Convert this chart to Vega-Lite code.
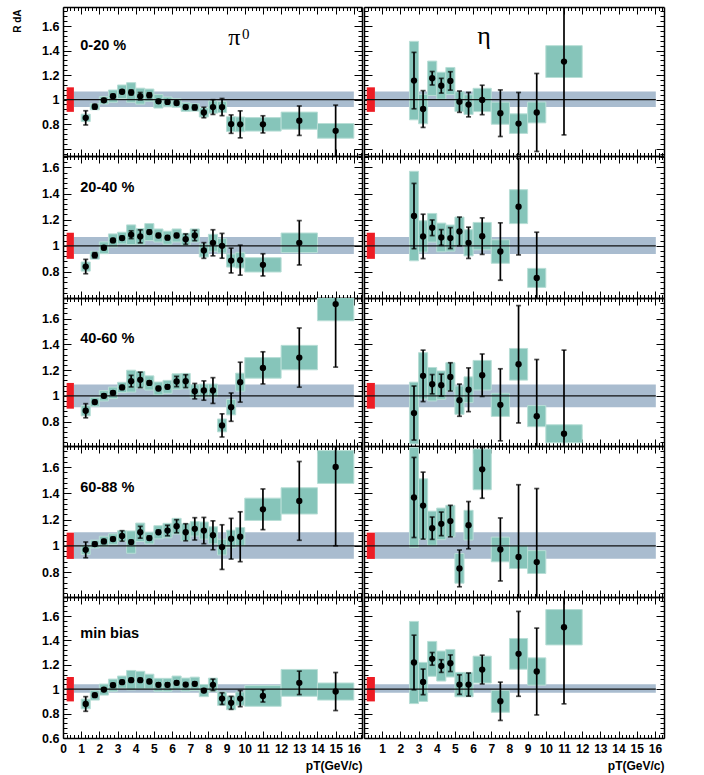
{
"$schema": "https://vega.github.io/schema/vega-lite/v6.json",
"padding": {"left": 12, "top": 5, "right": 5, "bottom": 5},
"background": "white",
"config": {"view": {"stroke": null}, "font": "Liberation Sans",
 "axis": {"domainColor": "black", "domainWidth": 1.5, "tickColor": "black", "tickWidth": 1, "labelFont": "Liberation Sans", "labelFontWeight": "bold", "labelFontSize": 12, "labelColor": "black", "grid": false, "labelOverlap": false, "labelFlush": false, "titleFont": "Liberation Sans", "titleFontWeight": "bold", "titleColor": "black"},
 "axisY": {"labelFontSize": 12.5}},
"datasets": {
 "one": [{"k": 1}],
 "bands": [{"p":1,"b0":0.94,"b1":1.065},{"p":2,"b0":0.938,"b1":1.067},{"p":3,"b0":0.912,"b1":1.088},{"p":4,"b0":0.902,"b1":1.103},{"p":5,"b0":0.97,"b1":1.04}],
 "pts": [
{"p":1,"c":"pi","x":1.25,"y":0.851,"e0":0.793,"e1":0.909,"x0":1,"x1":1.5,"s0":0.821,"s1":0.881},
{"p":1,"c":"pi","x":1.75,"y":0.942,"e0":0.922,"e1":0.962,"x0":1.5,"x1":2,"s0":0.917,"s1":0.967},
{"p":1,"c":"pi","x":2.25,"y":0.994,"e0":0.979,"e1":1.009,"x0":2,"x1":2.5,"s0":0.964,"s1":1.024},
{"p":1,"c":"pi","x":2.75,"y":1.028,"e0":1.013,"e1":1.043,"x0":2.5,"x1":3,"s0":0.978,"s1":1.078},
{"p":1,"c":"pi","x":3.25,"y":1.064,"e0":1.049,"e1":1.079,"x0":3,"x1":3.5,"s0":1.009,"s1":1.119},
{"p":1,"c":"pi","x":3.75,"y":1.058,"e0":1.038,"e1":1.078,"x0":3.5,"x1":4,"s0":0.978,"s1":1.138},
{"p":1,"c":"pi","x":4.25,"y":1.028,"e0":0.998,"e1":1.058,"x0":4,"x1":4.5,"s0":0.963,"s1":1.093},
{"p":1,"c":"pi","x":4.75,"y":1.036,"e0":1.016,"e1":1.056,"x0":4.5,"x1":5,"s0":0.986,"s1":1.086},
{"p":1,"c":"pi","x":5.25,"y":0.986,"e0":0.971,"e1":1.001,"x0":5,"x1":5.5,"s0":0.931,"s1":1.041},
{"p":1,"c":"pi","x":5.75,"y":0.981,"e0":0.966,"e1":0.996,"x0":5.5,"x1":6,"s0":0.941,"s1":1.021},
{"p":1,"c":"pi","x":6.25,"y":0.972,"e0":0.957,"e1":0.987,"x0":6,"x1":6.5,"s0":0.937,"s1":1.007},
{"p":1,"c":"pi","x":6.75,"y":0.939,"e0":0.924,"e1":0.954,"x0":6.5,"x1":7,"s0":0.904,"s1":0.974},
{"p":1,"c":"pi","x":7.25,"y":0.936,"e0":0.916,"e1":0.956,"x0":7,"x1":7.5,"s0":0.906,"s1":0.966},
{"p":1,"c":"pi","x":7.75,"y":0.895,"e0":0.852,"e1":0.938,"x0":7.5,"x1":8,"s0":0.858,"s1":0.932},
{"p":1,"c":"pi","x":8.25,"y":0.939,"e0":0.879,"e1":0.999,"x0":8,"x1":8.5,"s0":0.889,"s1":0.989},
{"p":1,"c":"pi","x":8.75,"y":0.939,"e0":0.869,"e1":1.009,"x0":8.5,"x1":9,"s0":0.894,"s1":0.984},
{"p":1,"c":"pi","x":9.25,"y":0.8,"e0":0.725,"e1":0.875,"x0":9,"x1":9.5,"s0":0.74,"s1":0.86},
{"p":1,"c":"pi","x":9.75,"y":0.798,"e0":0.688,"e1":0.908,"x0":9.5,"x1":10,"s0":0.738,"s1":0.858},
{"p":1,"c":"pi","x":11,"y":0.798,"e0":0.728,"e1":0.868,"x0":10,"x1":12,"s0":0.743,"s1":0.853},
{"p":1,"c":"pi","x":13,"y":0.828,"e0":0.708,"e1":0.948,"x0":12,"x1":14,"s0":0.758,"s1":0.898},
{"p":1,"c":"pi","x":15,"y":0.745,"e0":0.535,"e1":0.955,"x0":14,"x1":16,"s0":0.685,"s1":0.805},
{"p":1,"c":"eta","x":2.75,"y":1.155,"e0":0.925,"e1":1.385,"x0":2.5,"x1":3,"s0":0.835,"s1":1.475},
{"p":1,"c":"eta","x":3.25,"y":0.923,"e0":0.773,"e1":1.073,"x0":3,"x1":3.5,"s0":0.803,"s1":1.043},
{"p":1,"c":"eta","x":3.75,"y":1.174,"e0":1.119,"e1":1.229,"x0":3.5,"x1":4,"s0":1.034,"s1":1.314},
{"p":1,"c":"eta","x":4.25,"y":1.113,"e0":1.053,"e1":1.173,"x0":4,"x1":4.5,"s0":1.003,"s1":1.223},
{"p":1,"c":"eta","x":4.75,"y":1.152,"e0":1.077,"e1":1.227,"x0":4.5,"x1":5,"s0":1.042,"s1":1.262},
{"p":1,"c":"eta","x":5.25,"y":0.983,"e0":0.896,"e1":1.07,"x0":5,"x1":5.5,"s0":0.903,"s1":1.063},
{"p":1,"c":"eta","x":5.75,"y":0.959,"e0":0.859,"e1":1.059,"x0":5.5,"x1":6,"s0":0.879,"s1":1.039},
{"p":1,"c":"eta","x":6.5,"y":0.997,"e0":0.877,"e1":1.117,"x0":6,"x1":7,"s0":0.902,"s1":1.092},
{"p":1,"c":"eta","x":7.5,"y":0.889,"e0":0.699,"e1":1.079,"x0":7,"x1":8,"s0":0.799,"s1":0.979},
{"p":1,"c":"eta","x":8.5,"y":0.804,"e0":0.55,"e1":1.058,"x0":8,"x1":9,"s0":0.724,"s1":0.884},
{"p":1,"c":"eta","x":9.5,"y":0.895,"e0":0.577,"e1":1.213,"x0":9,"x1":10,"s0":0.81,"s1":0.98},
{"p":1,"c":"eta","x":11,"y":1.31,"e0":0.712,"e1":1.908,"x0":10,"x1":12,"s0":1.18,"s1":1.44},
{"p":2,"c":"pi","x":1.25,"y":0.841,"e0":0.786,"e1":0.896,"x0":1,"x1":1.5,"s0":0.806,"s1":0.876},
{"p":2,"c":"pi","x":1.75,"y":0.928,"e0":0.908,"e1":0.948,"x0":1.5,"x1":2,"s0":0.898,"s1":0.958},
{"p":2,"c":"pi","x":2.25,"y":0.985,"e0":0.97,"e1":1.0,"x0":2,"x1":2.5,"s0":0.94,"s1":1.03},
{"p":2,"c":"pi","x":2.75,"y":1.041,"e0":1.026,"e1":1.056,"x0":2.5,"x1":3,"s0":0.991,"s1":1.091},
{"p":2,"c":"pi","x":3.25,"y":1.059,"e0":1.044,"e1":1.074,"x0":3,"x1":3.5,"s0":1.014,"s1":1.104},
{"p":2,"c":"pi","x":3.75,"y":1.085,"e0":1.055,"e1":1.115,"x0":3.5,"x1":4,"s0":1.01,"s1":1.16},
{"p":2,"c":"pi","x":4.25,"y":1.072,"e0":1.022,"e1":1.122,"x0":4,"x1":4.5,"s0":1.012,"s1":1.132},
{"p":2,"c":"pi","x":4.75,"y":1.105,"e0":1.09,"e1":1.12,"x0":4.5,"x1":5,"s0":1.04,"s1":1.17},
{"p":2,"c":"pi","x":5.25,"y":1.079,"e0":1.064,"e1":1.094,"x0":5,"x1":5.5,"s0":1.029,"s1":1.129},
{"p":2,"c":"pi","x":5.75,"y":1.062,"e0":1.047,"e1":1.077,"x0":5.5,"x1":6,"s0":1.012,"s1":1.112},
{"p":2,"c":"pi","x":6.25,"y":1.079,"e0":1.064,"e1":1.094,"x0":6,"x1":6.5,"s0":1.029,"s1":1.129},
{"p":2,"c":"pi","x":6.75,"y":1.051,"e0":1.011,"e1":1.091,"x0":6.5,"x1":7,"s0":1.006,"s1":1.096},
{"p":2,"c":"pi","x":7.25,"y":1.079,"e0":1.039,"e1":1.119,"x0":7,"x1":7.5,"s0":1.029,"s1":1.129},
{"p":2,"c":"pi","x":7.75,"y":0.964,"e0":0.904,"e1":1.024,"x0":7.5,"x1":8,"s0":0.914,"s1":1.014},
{"p":2,"c":"pi","x":8.25,"y":1.023,"e0":0.923,"e1":1.123,"x0":8,"x1":8.5,"s0":0.958,"s1":1.088},
{"p":2,"c":"pi","x":8.75,"y":1.0,"e0":0.905,"e1":1.095,"x0":8.5,"x1":9,"s0":0.945,"s1":1.055},
{"p":2,"c":"pi","x":9.25,"y":0.887,"e0":0.792,"e1":0.982,"x0":9,"x1":9.5,"s0":0.837,"s1":0.937},
{"p":2,"c":"pi","x":9.75,"y":0.89,"e0":0.775,"e1":1.005,"x0":9.5,"x1":10,"s0":0.83,"s1":0.95},
{"p":2,"c":"pi","x":11,"y":0.854,"e0":0.769,"e1":0.939,"x0":10,"x1":12,"s0":0.799,"s1":0.909},
{"p":2,"c":"pi","x":13,"y":1.023,"e0":0.853,"e1":1.193,"x0":12,"x1":14,"s0":0.948,"s1":1.098},
{"p":2,"c":"eta","x":2.75,"y":1.228,"e0":0.978,"e1":1.478,"x0":2.5,"x1":3,"s0":0.885,"s1":1.571},
{"p":2,"c":"eta","x":3.25,"y":1.072,"e0":0.902,"e1":1.242,"x0":3,"x1":3.5,"s0":0.952,"s1":1.192},
{"p":2,"c":"eta","x":3.75,"y":1.138,"e0":1.078,"e1":1.198,"x0":3.5,"x1":4,"s0":1.028,"s1":1.248},
{"p":2,"c":"eta","x":4.25,"y":1.064,"e0":1.004,"e1":1.124,"x0":4,"x1":4.5,"s0":0.954,"s1":1.174},
{"p":2,"c":"eta","x":4.75,"y":1.059,"e0":0.979,"e1":1.139,"x0":4.5,"x1":5,"s0":0.959,"s1":1.159},
{"p":2,"c":"eta","x":5.25,"y":1.11,"e0":1.0,"e1":1.22,"x0":5,"x1":5.5,"s0":1.0,"s1":1.22},
{"p":2,"c":"eta","x":5.75,"y":1.023,"e0":0.903,"e1":1.143,"x0":5.5,"x1":6,"s0":0.923,"s1":1.123},
{"p":2,"c":"eta","x":6.5,"y":1.074,"e0":0.934,"e1":1.214,"x0":6,"x1":7,"s0":0.969,"s1":1.179},
{"p":2,"c":"eta","x":7.5,"y":0.956,"e0":0.736,"e1":1.176,"x0":7,"x1":8,"s0":0.866,"s1":1.046},
{"p":2,"c":"eta","x":8.5,"y":1.3,"e0":0.93,"e1":1.67,"x0":8,"x1":9,"s0":1.17,"s1":1.43},
{"p":2,"c":"eta","x":9.5,"y":0.754,"e0":0.404,"e1":1.104,"x0":9,"x1":10,"s0":0.681,"s1":0.827},
{"p":3,"c":"pi","x":1.25,"y":0.884,"e0":0.829,"e1":0.939,"x0":1,"x1":1.5,"s0":0.844,"s1":0.924},
{"p":3,"c":"pi","x":1.75,"y":0.951,"e0":0.936,"e1":0.966,"x0":1.5,"x1":2,"s0":0.916,"s1":0.986},
{"p":3,"c":"pi","x":2.25,"y":1.0,"e0":0.985,"e1":1.015,"x0":2,"x1":2.5,"s0":0.96,"s1":1.04},
{"p":3,"c":"pi","x":2.75,"y":1.023,"e0":1.008,"e1":1.038,"x0":2.5,"x1":3,"s0":0.978,"s1":1.068},
{"p":3,"c":"pi","x":3.25,"y":1.065,"e0":1.05,"e1":1.08,"x0":3,"x1":3.5,"s0":1.025,"s1":1.105},
{"p":3,"c":"pi","x":3.75,"y":1.114,"e0":1.069,"e1":1.159,"x0":3.5,"x1":4,"s0":1.029,"s1":1.199},
{"p":3,"c":"pi","x":4.25,"y":1.124,"e0":1.064,"e1":1.184,"x0":4,"x1":4.5,"s0":1.059,"s1":1.189},
{"p":3,"c":"pi","x":4.75,"y":1.1,"e0":1.085,"e1":1.115,"x0":4.5,"x1":5,"s0":1.045,"s1":1.155},
{"p":3,"c":"pi","x":5.25,"y":1.057,"e0":1.042,"e1":1.072,"x0":5,"x1":5.5,"s0":1.007,"s1":1.107},
{"p":3,"c":"pi","x":5.75,"y":1.07,"e0":1.055,"e1":1.085,"x0":5.5,"x1":6,"s0":1.02,"s1":1.12},
{"p":3,"c":"pi","x":6.25,"y":1.111,"e0":1.071,"e1":1.151,"x0":6,"x1":6.5,"s0":1.051,"s1":1.171},
{"p":3,"c":"pi","x":6.75,"y":1.114,"e0":1.064,"e1":1.164,"x0":6.5,"x1":7,"s0":1.054,"s1":1.174},
{"p":3,"c":"pi","x":7.25,"y":1.036,"e0":0.976,"e1":1.096,"x0":7,"x1":7.5,"s0":0.986,"s1":1.086},
{"p":3,"c":"pi","x":7.75,"y":1.041,"e0":0.966,"e1":1.116,"x0":7.5,"x1":8,"s0":0.991,"s1":1.091},
{"p":3,"c":"pi","x":8.25,"y":1.041,"e0":0.941,"e1":1.141,"x0":8,"x1":8.5,"s0":0.991,"s1":1.091},
{"p":3,"c":"pi","x":8.75,"y":0.77,"e0":0.68,"e1":0.86,"x0":8.5,"x1":9,"s0":0.72,"s1":0.82},
{"p":3,"c":"pi","x":9.25,"y":0.912,"e0":0.802,"e1":1.022,"x0":9,"x1":9.5,"s0":0.852,"s1":0.972},
{"p":3,"c":"pi","x":9.75,"y":1.106,"e0":0.951,"e1":1.261,"x0":9.5,"x1":10,"s0":1.036,"s1":1.176},
{"p":3,"c":"pi","x":11,"y":1.217,"e0":1.092,"e1":1.342,"x0":10,"x1":12,"s0":1.137,"s1":1.297},
{"p":3,"c":"pi","x":13,"y":1.297,"e0":1.067,"e1":1.527,"x0":12,"x1":14,"s0":1.202,"s1":1.392},
{"p":3,"c":"pi","x":15,"y":1.713,"e0":1.223,"e1":2.203,"x0":14,"x1":16,"s0":1.583,"s1":1.843},
{"p":3,"c":"eta","x":2.75,"y":0.866,"e0":0.656,"e1":1.076,"x0":2.5,"x1":3,"s0":0.626,"s1":1.106},
{"p":3,"c":"eta","x":3.25,"y":1.155,"e0":0.955,"e1":1.355,"x0":3,"x1":3.5,"s0":0.975,"s1":1.335},
{"p":3,"c":"eta","x":3.75,"y":1.09,"e0":1.015,"e1":1.165,"x0":3.5,"x1":4,"s0":0.96,"s1":1.22},
{"p":3,"c":"eta","x":4.25,"y":1.083,"e0":0.998,"e1":1.168,"x0":4,"x1":4.5,"s0":0.973,"s1":1.193},
{"p":3,"c":"eta","x":4.75,"y":1.147,"e0":1.037,"e1":1.257,"x0":4.5,"x1":5,"s0":1.037,"s1":1.257},
{"p":3,"c":"eta","x":5.25,"y":0.966,"e0":0.841,"e1":1.091,"x0":5,"x1":5.5,"s0":0.856,"s1":1.076},
{"p":3,"c":"eta","x":5.75,"y":1.047,"e0":0.877,"e1":1.217,"x0":5.5,"x1":6,"s0":0.947,"s1":1.147},
{"p":3,"c":"eta","x":6.5,"y":1.16,"e0":0.995,"e1":1.325,"x0":6,"x1":7,"s0":1.045,"s1":1.275},
{"p":3,"c":"eta","x":7.5,"y":0.93,"e0":0.65,"e1":1.21,"x0":7,"x1":8,"s0":0.84,"s1":1.02},
{"p":3,"c":"eta","x":8.5,"y":1.245,"e0":0.789,"e1":1.701,"x0":8,"x1":9,"s0":1.122,"s1":1.368},
{"p":3,"c":"eta","x":9.5,"y":0.842,"e0":0.402,"e1":1.282,"x0":9,"x1":10,"s0":0.76,"s1":0.924},
{"p":3,"c":"eta","x":11,"y":0.705,"e0":0.055,"e1":1.355,"x0":10,"x1":12,"s0":0.635,"s1":0.775},
{"p":4,"c":"pi","x":1.25,"y":0.969,"e0":0.909,"e1":1.029,"x0":1,"x1":1.5,"s0":0.934,"s1":1.004},
{"p":4,"c":"pi","x":1.75,"y":1.013,"e0":0.998,"e1":1.028,"x0":1.5,"x1":2,"s0":0.983,"s1":1.043},
{"p":4,"c":"pi","x":2.25,"y":1.033,"e0":1.018,"e1":1.048,"x0":2,"x1":2.5,"s0":0.993,"s1":1.073},
{"p":4,"c":"pi","x":2.75,"y":1.051,"e0":1.036,"e1":1.066,"x0":2.5,"x1":3,"s0":1.011,"s1":1.091},
{"p":4,"c":"pi","x":3.25,"y":1.075,"e0":1.035,"e1":1.115,"x0":3,"x1":3.5,"s0":1.035,"s1":1.115},
{"p":4,"c":"pi","x":3.75,"y":1.028,"e0":1.013,"e1":1.043,"x0":3.5,"x1":4,"s0":0.943,"s1":1.113},
{"p":4,"c":"pi","x":4.25,"y":1.103,"e0":1.058,"e1":1.148,"x0":4,"x1":4.5,"s0":1.033,"s1":1.173},
{"p":4,"c":"pi","x":4.75,"y":1.059,"e0":1.044,"e1":1.074,"x0":4.5,"x1":5,"s0":1.014,"s1":1.104},
{"p":4,"c":"pi","x":5.25,"y":1.103,"e0":1.088,"e1":1.118,"x0":5,"x1":5.5,"s0":1.053,"s1":1.153},
{"p":4,"c":"pi","x":5.75,"y":1.116,"e0":1.076,"e1":1.156,"x0":5.5,"x1":6,"s0":1.061,"s1":1.171},
{"p":4,"c":"pi","x":6.25,"y":1.149,"e0":1.099,"e1":1.199,"x0":6,"x1":6.5,"s0":1.089,"s1":1.209},
{"p":4,"c":"pi","x":6.75,"y":1.103,"e0":1.038,"e1":1.168,"x0":6.5,"x1":7,"s0":1.038,"s1":1.168},
{"p":4,"c":"pi","x":7.25,"y":1.129,"e0":1.044,"e1":1.214,"x0":7,"x1":7.5,"s0":1.074,"s1":1.184},
{"p":4,"c":"pi","x":7.75,"y":1.116,"e0":1.016,"e1":1.216,"x0":7.5,"x1":8,"s0":1.051,"s1":1.181},
{"p":4,"c":"pi","x":8.25,"y":1.08,"e0":0.97,"e1":1.19,"x0":8,"x1":8.5,"s0":1.015,"s1":1.145},
{"p":4,"c":"pi","x":8.75,"y":0.99,"e0":0.82,"e1":1.16,"x0":8.5,"x1":9,"s0":0.93,"s1":1.05},
{"p":4,"c":"pi","x":9.25,"y":1.054,"e0":0.899,"e1":1.209,"x0":9,"x1":9.5,"s0":0.989,"s1":1.119},
{"p":4,"c":"pi","x":9.75,"y":1.069,"e0":0.879,"e1":1.259,"x0":9.5,"x1":10,"s0":0.999,"s1":1.139},
{"p":4,"c":"pi","x":11,"y":1.278,"e0":1.123,"e1":1.433,"x0":10,"x1":12,"s0":1.193,"s1":1.363},
{"p":4,"c":"pi","x":13,"y":1.342,"e0":1.042,"e1":1.642,"x0":12,"x1":14,"s0":1.242,"s1":1.442},
{"p":4,"c":"pi","x":15,"y":1.6,"e0":1.0,"e1":2.2,"x0":14,"x1":16,"s0":1.475,"s1":1.725},
{"p":4,"c":"eta","x":2.75,"y":1.368,"e0":1.063,"e1":1.673,"x0":2.5,"x1":3,"s0":0.988,"s1":1.748},
{"p":4,"c":"eta","x":3.25,"y":1.306,"e0":1.051,"e1":1.561,"x0":3,"x1":3.5,"s0":1.05,"s1":1.51},
{"p":4,"c":"eta","x":3.75,"y":1.134,"e0":1.049,"e1":1.219,"x0":3.5,"x1":4,"s0":1.004,"s1":1.264},
{"p":4,"c":"eta","x":4.25,"y":1.167,"e0":1.077,"e1":1.257,"x0":4,"x1":4.5,"s0":1.047,"s1":1.287},
{"p":4,"c":"eta","x":4.75,"y":1.188,"e0":1.068,"e1":1.308,"x0":4.5,"x1":5,"s0":1.068,"s1":1.308},
{"p":4,"c":"eta","x":5.25,"y":0.828,"e0":0.688,"e1":0.968,"x0":5,"x1":5.5,"s0":0.715,"s1":0.941},
{"p":4,"c":"eta","x":5.75,"y":1.157,"e0":0.977,"e1":1.337,"x0":5.5,"x1":6,"s0":1.044,"s1":1.27},
{"p":4,"c":"eta","x":6.5,"y":1.582,"e0":1.362,"e1":1.802,"x0":6,"x1":7,"s0":1.427,"s1":1.737},
{"p":4,"c":"eta","x":7.5,"y":0.972,"e0":0.732,"e1":1.212,"x0":7,"x1":8,"s0":0.878,"s1":1.066},
{"p":4,"c":"eta","x":8.5,"y":0.915,"e0":0.365,"e1":1.465,"x0":8,"x1":9,"s0":0.827,"s1":1.003},
{"p":4,"c":"eta","x":9.5,"y":0.876,"e0":0.316,"e1":1.436,"x0":9,"x1":10,"s0":0.789,"s1":0.963},
{"p":5,"c":"pi","x":1.25,"y":0.879,"e0":0.819,"e1":0.939,"x0":1,"x1":1.5,"s0":0.839,"s1":0.919},
{"p":5,"c":"pi","x":1.75,"y":0.951,"e0":0.936,"e1":0.966,"x0":1.5,"x1":2,"s0":0.911,"s1":0.991},
{"p":5,"c":"pi","x":2.25,"y":0.997,"e0":0.982,"e1":1.012,"x0":2,"x1":2.5,"s0":0.952,"s1":1.042},
{"p":5,"c":"pi","x":2.75,"y":1.033,"e0":1.018,"e1":1.048,"x0":2.5,"x1":3,"s0":0.983,"s1":1.083},
{"p":5,"c":"pi","x":3.25,"y":1.058,"e0":1.043,"e1":1.073,"x0":3,"x1":3.5,"s0":1.008,"s1":1.108},
{"p":5,"c":"pi","x":3.75,"y":1.074,"e0":1.059,"e1":1.089,"x0":3.5,"x1":4,"s0":0.994,"s1":1.154},
{"p":5,"c":"pi","x":4.25,"y":1.074,"e0":1.059,"e1":1.089,"x0":4,"x1":4.5,"s0":1.001,"s1":1.147},
{"p":5,"c":"pi","x":4.75,"y":1.063,"e0":1.048,"e1":1.078,"x0":4.5,"x1":5,"s0":1.003,"s1":1.123},
{"p":5,"c":"pi","x":5.25,"y":1.036,"e0":1.021,"e1":1.051,"x0":5,"x1":5.5,"s0":0.983,"s1":1.089},
{"p":5,"c":"pi","x":5.75,"y":1.036,"e0":1.021,"e1":1.051,"x0":5.5,"x1":6,"s0":0.983,"s1":1.089},
{"p":5,"c":"pi","x":6.25,"y":1.052,"e0":1.037,"e1":1.067,"x0":6,"x1":6.5,"s0":0.996,"s1":1.108},
{"p":5,"c":"pi","x":6.75,"y":1.038,"e0":1.023,"e1":1.053,"x0":6.5,"x1":7,"s0":0.985,"s1":1.091},
{"p":5,"c":"pi","x":7.25,"y":1.044,"e0":1.029,"e1":1.059,"x0":7,"x1":7.5,"s0":0.989,"s1":1.099},
{"p":5,"c":"pi","x":7.75,"y":0.989,"e0":0.974,"e1":1.004,"x0":7.5,"x1":8,"s0":0.939,"s1":1.039},
{"p":5,"c":"pi","x":8.25,"y":1.036,"e0":0.989,"e1":1.083,"x0":8,"x1":8.5,"s0":0.981,"s1":1.091},
{"p":5,"c":"pi","x":8.75,"y":0.923,"e0":0.875,"e1":0.971,"x0":8.5,"x1":9,"s0":0.868,"s1":0.978},
{"p":5,"c":"pi","x":9.25,"y":0.888,"e0":0.835,"e1":0.941,"x0":9,"x1":9.5,"s0":0.832,"s1":0.944},
{"p":5,"c":"pi","x":9.75,"y":0.923,"e0":0.857,"e1":0.989,"x0":9.5,"x1":10,"s0":0.868,"s1":0.978},
{"p":5,"c":"pi","x":11,"y":0.945,"e0":0.895,"e1":0.995,"x0":10,"x1":12,"s0":0.86,"s1":1.03},
{"p":5,"c":"pi","x":13,"y":1.052,"e0":0.956,"e1":1.148,"x0":12,"x1":14,"s0":0.942,"s1":1.162},
{"p":5,"c":"pi","x":15,"y":0.981,"e0":0.825,"e1":1.137,"x0":14,"x1":16,"s0":0.911,"s1":1.051},
{"p":5,"c":"eta","x":2.75,"y":1.219,"e0":0.995,"e1":1.443,"x0":2.5,"x1":3,"s0":0.882,"s1":1.556},
{"p":5,"c":"eta","x":3.25,"y":1.06,"e0":0.955,"e1":1.165,"x0":3,"x1":3.5,"s0":0.9,"s1":1.22},
{"p":5,"c":"eta","x":3.75,"y":1.249,"e0":1.197,"e1":1.301,"x0":3.5,"x1":4,"s0":1.106,"s1":1.392},
{"p":5,"c":"eta","x":4.25,"y":1.19,"e0":1.138,"e1":1.242,"x0":4,"x1":4.5,"s0":1.067,"s1":1.313},
{"p":5,"c":"eta","x":4.75,"y":1.213,"e0":1.145,"e1":1.281,"x0":4.5,"x1":5,"s0":1.1,"s1":1.326},
{"p":5,"c":"eta","x":5.25,"y":1.038,"e0":0.958,"e1":1.118,"x0":5,"x1":5.5,"s0":0.938,"s1":1.138},
{"p":5,"c":"eta","x":5.75,"y":1.038,"e0":0.943,"e1":1.133,"x0":5.5,"x1":6,"s0":0.938,"s1":1.138},
{"p":5,"c":"eta","x":6.5,"y":1.161,"e0":1.043,"e1":1.279,"x0":6,"x1":7,"s0":1.051,"s1":1.271},
{"p":5,"c":"eta","x":7.5,"y":0.901,"e0":0.744,"e1":1.058,"x0":7,"x1":8,"s0":0.811,"s1":0.991},
{"p":5,"c":"eta","x":8.5,"y":1.29,"e0":0.942,"e1":1.638,"x0":8,"x1":9,"s0":1.164,"s1":1.416},
{"p":5,"c":"eta","x":9.5,"y":1.145,"e0":0.789,"e1":1.501,"x0":9,"x1":10,"s0":1.033,"s1":1.257},
{"p":5,"c":"eta","x":11,"y":1.508,"e0":0.88,"e1":2.136,"x0":10,"x1":12,"s0":1.363,"s1":1.653}
 ]
},
"columns": 2,
"spacing": {"row": 0, "column": 2},
"bounds": "flush",
"concat": [
{"width": 299, "height": 149, "data": {"name": "one"}, "resolve": {"axis": {"x": "independent", "y": "independent"}},
 "layer": [
  {"data": {"name": "bands"}, "transform": [{"filter": "datum.p == 1"}], "mark": {"type": "rect", "color": "#a9bccf"},
   "encoding": {"x": {"datum": 0.6, "type": "quantitative", "scale": {"domain": [0, 16.45], "nice": false, "zero": false}, "axis": {"orient": "bottom", "title": null, "tickCount": 82, "labels": false, "tickSize": {"condition": {"test": "abs(datum.value-round(datum.value))<0.01", "value": -7}, "value": -3.5}}},
    "x2": {"datum": 16},
    "y": {"field": "b0", "type": "quantitative", "scale": {"domain": [0.54, 1.755], "nice": false, "zero": false}, "axis": {"orient": "left", "title": "R dA", "titleX": -46, "titleY": 2, "titleAngle": 270, "titleAlign": "right", "titleBaseline": "middle", "titleFontSize": 10, "values": [0.56,0.6,0.64,0.68,0.72,0.76,0.8,0.84,0.88,0.92,0.96,1,1.04,1.08,1.12,1.16,1.2,1.24,1.28,1.32,1.36,1.4,1.44,1.48,1.52,1.56,1.6,1.64,1.68,1.72], "labelPadding": 12, "labelExpr": "abs(datum.value*5-round(datum.value*5))<0.01 && datum.value>0.7 ? ''+datum.value : ''", "tickSize": {"condition": {"test": "abs(datum.value*5-round(datum.value*5))<0.01", "value": -8}, "value": -4}}},
    "y2": {"field": "b1"}}},
  {"mark": {"type": "rect", "color": "#ed1c24"}, "encoding": {"x": {"datum": 0.2, "type": "quantitative", "axis": null}, "x2": {"datum": 0.6}, "y": {"datum": 0.9, "type": "quantitative", "axis": null}, "y2": {"datum": 1.1}}},
  {"data": {"name": "pts"}, "transform": [{"filter": "datum.p == 1 && datum.c == 'pi'"}], "mark": {"type": "rect", "fill": "#86c5ba", "stroke": "#b8ded6", "strokeWidth": 1, "clip": true},
   "encoding": {"x": {"field": "x0", "type": "quantitative", "axis": null}, "x2": {"field": "x1"}, "y": {"field": "s0", "type": "quantitative", "axis": null}, "y2": {"field": "s1"}}},
  {"mark": {"type": "rule", "color": "#111111", "strokeWidth": 1.2}, "encoding": {"x": {"datum": 0, "type": "quantitative", "axis": {"orient": "top", "title": null, "tickCount": 82, "labels": false, "tickSize": {"condition": {"test": "abs(datum.value-round(datum.value))<0.01", "value": -7}, "value": -3.5}}}, "x2": {"datum": 16.45}, "y": {"datum": 1, "type": "quantitative", "axis": {"orient": "right", "title": null, "labels": false, "values": [0.56,0.6,0.64,0.68,0.72,0.76,0.8,0.84,0.88,0.92,0.96,1,1.04,1.08,1.12,1.16,1.2,1.24,1.28,1.32,1.36,1.4,1.44,1.48,1.52,1.56,1.6,1.64,1.68,1.72], "tickSize": {"condition": {"test": "abs(datum.value*5-round(datum.value*5))<0.01", "value": -8}, "value": -4}}}}},
  {"data": {"name": "pts"}, "transform": [{"filter": "datum.p == 1 && datum.c == 'pi'"}], "mark": {"type": "rule", "color": "black", "strokeWidth": 1.7, "clip": true}, "encoding": {"x": {"field": "x", "type": "quantitative", "axis": null}, "y": {"field": "e0", "type": "quantitative", "axis": null}, "y2": {"field": "e1"}}},
  {"data": {"name": "pts"}, "transform": [{"filter": "datum.p == 1 && datum.c == 'pi'"}], "mark": {"type": "tick", "orient": "horizontal", "color": "black", "size": 5, "thickness": 1.7, "clip": true}, "encoding": {"x": {"field": "x", "type": "quantitative", "axis": null}, "y": {"field": "e0", "type": "quantitative", "axis": null}}},
  {"data": {"name": "pts"}, "transform": [{"filter": "datum.p == 1 && datum.c == 'pi'"}], "mark": {"type": "tick", "orient": "horizontal", "color": "black", "size": 5, "thickness": 1.7, "clip": true}, "encoding": {"x": {"field": "x", "type": "quantitative", "axis": null}, "y": {"field": "e1", "type": "quantitative", "axis": null}}},
  {"data": {"name": "pts"}, "transform": [{"filter": "datum.p == 1 && datum.c == 'pi'"}], "mark": {"type": "circle", "color": "black", "size": 40, "opacity": 1, "clip": true}, "encoding": {"x": {"field": "x", "type": "quantitative", "axis": null}, "y": {"field": "y", "type": "quantitative", "axis": null}}},
  {"mark": {"type": "text", "text": "0-20 %", "align": "left", "baseline": "middle", "fontSize": 14.5, "fontWeight": "bold", "font": "Liberation Sans", "color": "black"}, "encoding": {"x": {"datum": 0.95, "type": "quantitative", "axis": null}, "y": {"datum": 1.44, "type": "quantitative", "axis": null}}},
  {"mark": {"type": "text", "text": "π", "align": "center", "baseline": "alphabetic", "fontSize": 24, "font": "Liberation Serif", "color": "black"}, "encoding": {"x": {"datum": 9.43, "type": "quantitative", "axis": null}, "y": {"datum": 1.445, "type": "quantitative", "axis": null}}},
  {"mark": {"type": "text", "text": "0", "align": "left", "baseline": "alphabetic", "fontSize": 15, "font": "Liberation Serif", "color": "black"}, "encoding": {"x": {"datum": 9.85, "type": "quantitative", "axis": null}, "y": {"datum": 1.494, "type": "quantitative", "axis": null}}}
 ]},
{"width": 300, "height": 149, "data": {"name": "one"}, "resolve": {"axis": {"x": "independent", "y": "independent"}},
 "layer": [
  {"data": {"name": "bands"}, "transform": [{"filter": "datum.p == 1"}], "mark": {"type": "rect", "color": "#a9bccf"},
   "encoding": {"x": {"datum": 0.6, "type": "quantitative", "scale": {"domain": [0, 16.5], "nice": false, "zero": false}, "axis": {"orient": "bottom", "title": null, "tickCount": 82, "labels": false, "tickSize": {"condition": {"test": "abs(datum.value-round(datum.value))<0.01", "value": -7}, "value": -3.5}}},
    "x2": {"datum": 16.05},
    "y": {"field": "b0", "type": "quantitative", "scale": {"domain": [0.54, 1.755], "nice": false, "zero": false}, "axis": {"orient": "left", "title": null, "labels": false, "values": [0.56,0.6,0.64,0.68,0.72,0.76,0.8,0.84,0.88,0.92,0.96,1,1.04,1.08,1.12,1.16,1.2,1.24,1.28,1.32,1.36,1.4,1.44,1.48,1.52,1.56,1.6,1.64,1.68,1.72], "tickSize": {"condition": {"test": "abs(datum.value*5-round(datum.value*5))<0.01", "value": -8}, "value": -4}}},
    "y2": {"field": "b1"}}},
  {"mark": {"type": "rect", "color": "#ed1c24"}, "encoding": {"x": {"datum": 0.15, "type": "quantitative", "axis": null}, "x2": {"datum": 0.6}, "y": {"datum": 0.9, "type": "quantitative", "axis": null}, "y2": {"datum": 1.1}}},
  {"data": {"name": "pts"}, "transform": [{"filter": "datum.p == 1 && datum.c == 'eta'"}], "mark": {"type": "rect", "fill": "#86c5ba", "stroke": "#b8ded6", "strokeWidth": 1, "clip": true},
   "encoding": {"x": {"field": "x0", "type": "quantitative", "axis": null}, "x2": {"field": "x1"}, "y": {"field": "s0", "type": "quantitative", "axis": null}, "y2": {"field": "s1"}}},
  {"mark": {"type": "rule", "color": "#111111", "strokeWidth": 1.2}, "encoding": {"x": {"datum": 0, "type": "quantitative", "axis": {"orient": "top", "title": null, "tickCount": 82, "labels": false, "tickSize": {"condition": {"test": "abs(datum.value-round(datum.value))<0.01", "value": -7}, "value": -3.5}}}, "x2": {"datum": 16.05}, "y": {"datum": 1, "type": "quantitative", "axis": {"orient": "right", "title": null, "labels": false, "values": [0.56,0.6,0.64,0.68,0.72,0.76,0.8,0.84,0.88,0.92,0.96,1,1.04,1.08,1.12,1.16,1.2,1.24,1.28,1.32,1.36,1.4,1.44,1.48,1.52,1.56,1.6,1.64,1.68,1.72], "tickSize": {"condition": {"test": "abs(datum.value*5-round(datum.value*5))<0.01", "value": -8}, "value": -4}}}}},
  {"data": {"name": "pts"}, "transform": [{"filter": "datum.p == 1 && datum.c == 'eta'"}], "mark": {"type": "rule", "color": "black", "strokeWidth": 1.7, "clip": true}, "encoding": {"x": {"field": "x", "type": "quantitative", "axis": null}, "y": {"field": "e0", "type": "quantitative", "axis": null}, "y2": {"field": "e1"}}},
  {"data": {"name": "pts"}, "transform": [{"filter": "datum.p == 1 && datum.c == 'eta'"}], "mark": {"type": "tick", "orient": "horizontal", "color": "black", "size": 5, "thickness": 1.7, "clip": true}, "encoding": {"x": {"field": "x", "type": "quantitative", "axis": null}, "y": {"field": "e0", "type": "quantitative", "axis": null}}},
  {"data": {"name": "pts"}, "transform": [{"filter": "datum.p == 1 && datum.c == 'eta'"}], "mark": {"type": "tick", "orient": "horizontal", "color": "black", "size": 5, "thickness": 1.7, "clip": true}, "encoding": {"x": {"field": "x", "type": "quantitative", "axis": null}, "y": {"field": "e1", "type": "quantitative", "axis": null}}},
  {"data": {"name": "pts"}, "transform": [{"filter": "datum.p == 1 && datum.c == 'eta'"}], "mark": {"type": "circle", "color": "black", "size": 40, "opacity": 1, "clip": true}, "encoding": {"x": {"field": "x", "type": "quantitative", "axis": null}, "y": {"field": "y", "type": "quantitative", "axis": null}}},
  {"mark": {"type": "text", "text": "η", "align": "center", "baseline": "alphabetic", "fontSize": 26, "font": "Liberation Serif", "color": "black"}, "encoding": {"x": {"datum": 6.6, "type": "quantitative", "axis": null}, "y": {"datum": 1.453, "type": "quantitative", "axis": null}}}
 ]},
{"width": 299, "height": 142, "data": {"name": "one"}, "resolve": {"axis": {"x": "independent", "y": "independent"}},
 "layer": [
  {"data": {"name": "bands"}, "transform": [{"filter": "datum.p == 2"}], "mark": {"type": "rect", "color": "#a9bccf"},
   "encoding": {"x": {"datum": 0.6, "type": "quantitative", "scale": {"domain": [0, 16.45], "nice": false, "zero": false}, "axis": {"orient": "bottom", "title": null, "tickCount": 82, "labels": false, "tickSize": {"condition": {"test": "abs(datum.value-round(datum.value))<0.01", "value": -7}, "value": -3.5}}},
    "x2": {"datum": 16},
    "y": {"field": "b0", "type": "quantitative", "scale": {"domain": [0.6, 1.688], "nice": false, "zero": false}, "axis": {"orient": "left", "title": null, "values": [0.6,0.64,0.68,0.72,0.76,0.8,0.84,0.88,0.92,0.96,1,1.04,1.08,1.12,1.16,1.2,1.24,1.28,1.32,1.36,1.4,1.44,1.48,1.52,1.56,1.6,1.64,1.68], "labelPadding": 12, "labelExpr": "abs(datum.value*5-round(datum.value*5))<0.01 && datum.value>0.7 ? ''+datum.value : ''", "tickSize": {"condition": {"test": "abs(datum.value*5-round(datum.value*5))<0.01", "value": -8}, "value": -4}}},
    "y2": {"field": "b1"}}},
  {"mark": {"type": "rect", "color": "#ed1c24"}, "encoding": {"x": {"datum": 0.2, "type": "quantitative", "axis": null}, "x2": {"datum": 0.6}, "y": {"datum": 0.9, "type": "quantitative", "axis": null}, "y2": {"datum": 1.1}}},
  {"data": {"name": "pts"}, "transform": [{"filter": "datum.p == 2 && datum.c == 'pi'"}], "mark": {"type": "rect", "fill": "#86c5ba", "stroke": "#b8ded6", "strokeWidth": 1, "clip": true},
   "encoding": {"x": {"field": "x0", "type": "quantitative", "axis": null}, "x2": {"field": "x1"}, "y": {"field": "s0", "type": "quantitative", "axis": null}, "y2": {"field": "s1"}}},
  {"mark": {"type": "rule", "color": "#111111", "strokeWidth": 1.2}, "encoding": {"x": {"datum": 0, "type": "quantitative", "axis": {"orient": "top", "title": null, "tickCount": 82, "labels": false, "tickSize": {"condition": {"test": "abs(datum.value-round(datum.value))<0.01", "value": -7}, "value": -3.5}}}, "x2": {"datum": 16.45}, "y": {"datum": 1, "type": "quantitative", "axis": {"orient": "right", "title": null, "labels": false, "values": [0.6,0.64,0.68,0.72,0.76,0.8,0.84,0.88,0.92,0.96,1,1.04,1.08,1.12,1.16,1.2,1.24,1.28,1.32,1.36,1.4,1.44,1.48,1.52,1.56,1.6,1.64,1.68], "tickSize": {"condition": {"test": "abs(datum.value*5-round(datum.value*5))<0.01", "value": -8}, "value": -4}}}}},
  {"data": {"name": "pts"}, "transform": [{"filter": "datum.p == 2 && datum.c == 'pi'"}], "mark": {"type": "rule", "color": "black", "strokeWidth": 1.7, "clip": true}, "encoding": {"x": {"field": "x", "type": "quantitative", "axis": null}, "y": {"field": "e0", "type": "quantitative", "axis": null}, "y2": {"field": "e1"}}},
  {"data": {"name": "pts"}, "transform": [{"filter": "datum.p == 2 && datum.c == 'pi'"}], "mark": {"type": "tick", "orient": "horizontal", "color": "black", "size": 5, "thickness": 1.7, "clip": true}, "encoding": {"x": {"field": "x", "type": "quantitative", "axis": null}, "y": {"field": "e0", "type": "quantitative", "axis": null}}},
  {"data": {"name": "pts"}, "transform": [{"filter": "datum.p == 2 && datum.c == 'pi'"}], "mark": {"type": "tick", "orient": "horizontal", "color": "black", "size": 5, "thickness": 1.7, "clip": true}, "encoding": {"x": {"field": "x", "type": "quantitative", "axis": null}, "y": {"field": "e1", "type": "quantitative", "axis": null}}},
  {"data": {"name": "pts"}, "transform": [{"filter": "datum.p == 2 && datum.c == 'pi'"}], "mark": {"type": "circle", "color": "black", "size": 40, "opacity": 1, "clip": true}, "encoding": {"x": {"field": "x", "type": "quantitative", "axis": null}, "y": {"field": "y", "type": "quantitative", "axis": null}}},
  {"mark": {"type": "text", "text": "20-40 %", "align": "left", "baseline": "middle", "fontSize": 14.5, "fontWeight": "bold", "font": "Liberation Sans", "color": "black"}, "encoding": {"x": {"datum": 0.95, "type": "quantitative", "axis": null}, "y": {"datum": 1.44, "type": "quantitative", "axis": null}}}
 ]},
{"width": 300, "height": 142, "data": {"name": "one"}, "resolve": {"axis": {"x": "independent", "y": "independent"}},
 "layer": [
  {"data": {"name": "bands"}, "transform": [{"filter": "datum.p == 2"}], "mark": {"type": "rect", "color": "#a9bccf"},
   "encoding": {"x": {"datum": 0.6, "type": "quantitative", "scale": {"domain": [0, 16.5], "nice": false, "zero": false}, "axis": {"orient": "bottom", "title": null, "tickCount": 82, "labels": false, "tickSize": {"condition": {"test": "abs(datum.value-round(datum.value))<0.01", "value": -7}, "value": -3.5}}},
    "x2": {"datum": 16.05},
    "y": {"field": "b0", "type": "quantitative", "scale": {"domain": [0.6, 1.688], "nice": false, "zero": false}, "axis": {"orient": "left", "title": null, "labels": false, "values": [0.6,0.64,0.68,0.72,0.76,0.8,0.84,0.88,0.92,0.96,1,1.04,1.08,1.12,1.16,1.2,1.24,1.28,1.32,1.36,1.4,1.44,1.48,1.52,1.56,1.6,1.64,1.68], "tickSize": {"condition": {"test": "abs(datum.value*5-round(datum.value*5))<0.01", "value": -8}, "value": -4}}},
    "y2": {"field": "b1"}}},
  {"mark": {"type": "rect", "color": "#ed1c24"}, "encoding": {"x": {"datum": 0.15, "type": "quantitative", "axis": null}, "x2": {"datum": 0.6}, "y": {"datum": 0.9, "type": "quantitative", "axis": null}, "y2": {"datum": 1.1}}},
  {"data": {"name": "pts"}, "transform": [{"filter": "datum.p == 2 && datum.c == 'eta'"}], "mark": {"type": "rect", "fill": "#86c5ba", "stroke": "#b8ded6", "strokeWidth": 1, "clip": true},
   "encoding": {"x": {"field": "x0", "type": "quantitative", "axis": null}, "x2": {"field": "x1"}, "y": {"field": "s0", "type": "quantitative", "axis": null}, "y2": {"field": "s1"}}},
  {"mark": {"type": "rule", "color": "#111111", "strokeWidth": 1.2}, "encoding": {"x": {"datum": 0, "type": "quantitative", "axis": {"orient": "top", "title": null, "tickCount": 82, "labels": false, "tickSize": {"condition": {"test": "abs(datum.value-round(datum.value))<0.01", "value": -7}, "value": -3.5}}}, "x2": {"datum": 16.05}, "y": {"datum": 1, "type": "quantitative", "axis": {"orient": "right", "title": null, "labels": false, "values": [0.6,0.64,0.68,0.72,0.76,0.8,0.84,0.88,0.92,0.96,1,1.04,1.08,1.12,1.16,1.2,1.24,1.28,1.32,1.36,1.4,1.44,1.48,1.52,1.56,1.6,1.64,1.68], "tickSize": {"condition": {"test": "abs(datum.value*5-round(datum.value*5))<0.01", "value": -8}, "value": -4}}}}},
  {"data": {"name": "pts"}, "transform": [{"filter": "datum.p == 2 && datum.c == 'eta'"}], "mark": {"type": "rule", "color": "black", "strokeWidth": 1.7, "clip": true}, "encoding": {"x": {"field": "x", "type": "quantitative", "axis": null}, "y": {"field": "e0", "type": "quantitative", "axis": null}, "y2": {"field": "e1"}}},
  {"data": {"name": "pts"}, "transform": [{"filter": "datum.p == 2 && datum.c == 'eta'"}], "mark": {"type": "tick", "orient": "horizontal", "color": "black", "size": 5, "thickness": 1.7, "clip": true}, "encoding": {"x": {"field": "x", "type": "quantitative", "axis": null}, "y": {"field": "e0", "type": "quantitative", "axis": null}}},
  {"data": {"name": "pts"}, "transform": [{"filter": "datum.p == 2 && datum.c == 'eta'"}], "mark": {"type": "tick", "orient": "horizontal", "color": "black", "size": 5, "thickness": 1.7, "clip": true}, "encoding": {"x": {"field": "x", "type": "quantitative", "axis": null}, "y": {"field": "e1", "type": "quantitative", "axis": null}}},
  {"data": {"name": "pts"}, "transform": [{"filter": "datum.p == 2 && datum.c == 'eta'"}], "mark": {"type": "circle", "color": "black", "size": 40, "opacity": 1, "clip": true}, "encoding": {"x": {"field": "x", "type": "quantitative", "axis": null}, "y": {"field": "y", "type": "quantitative", "axis": null}}}
 ]},
{"width": 299, "height": 148, "data": {"name": "one"}, "resolve": {"axis": {"x": "independent", "y": "independent"}},
 "layer": [
  {"data": {"name": "bands"}, "transform": [{"filter": "datum.p == 3"}], "mark": {"type": "rect", "color": "#a9bccf"},
   "encoding": {"x": {"datum": 0.6, "type": "quantitative", "scale": {"domain": [0, 16.45], "nice": false, "zero": false}, "axis": {"orient": "bottom", "title": null, "tickCount": 82, "labels": false, "tickSize": {"condition": {"test": "abs(datum.value-round(datum.value))<0.01", "value": -7}, "value": -3.5}}},
    "x2": {"datum": 16},
    "y": {"field": "b0", "type": "quantitative", "scale": {"domain": [0.61, 1.76], "nice": false, "zero": false}, "axis": {"orient": "left", "title": null, "values": [0.64,0.68,0.72,0.76,0.8,0.84,0.88,0.92,0.96,1,1.04,1.08,1.12,1.16,1.2,1.24,1.28,1.32,1.36,1.4,1.44,1.48,1.52,1.56,1.6,1.64,1.68,1.72,1.76], "labelPadding": 12, "labelExpr": "abs(datum.value*5-round(datum.value*5))<0.01 && datum.value>0.7 ? ''+datum.value : ''", "tickSize": {"condition": {"test": "abs(datum.value*5-round(datum.value*5))<0.01", "value": -8}, "value": -4}}},
    "y2": {"field": "b1"}}},
  {"mark": {"type": "rect", "color": "#ed1c24"}, "encoding": {"x": {"datum": 0.2, "type": "quantitative", "axis": null}, "x2": {"datum": 0.6}, "y": {"datum": 0.9, "type": "quantitative", "axis": null}, "y2": {"datum": 1.1}}},
  {"data": {"name": "pts"}, "transform": [{"filter": "datum.p == 3 && datum.c == 'pi'"}], "mark": {"type": "rect", "fill": "#86c5ba", "stroke": "#b8ded6", "strokeWidth": 1, "clip": true},
   "encoding": {"x": {"field": "x0", "type": "quantitative", "axis": null}, "x2": {"field": "x1"}, "y": {"field": "s0", "type": "quantitative", "axis": null}, "y2": {"field": "s1"}}},
  {"mark": {"type": "rule", "color": "#111111", "strokeWidth": 1.2}, "encoding": {"x": {"datum": 0, "type": "quantitative", "axis": {"orient": "top", "title": null, "tickCount": 82, "labels": false, "tickSize": {"condition": {"test": "abs(datum.value-round(datum.value))<0.01", "value": -7}, "value": -3.5}}}, "x2": {"datum": 16.45}, "y": {"datum": 1, "type": "quantitative", "axis": {"orient": "right", "title": null, "labels": false, "values": [0.64,0.68,0.72,0.76,0.8,0.84,0.88,0.92,0.96,1,1.04,1.08,1.12,1.16,1.2,1.24,1.28,1.32,1.36,1.4,1.44,1.48,1.52,1.56,1.6,1.64,1.68,1.72,1.76], "tickSize": {"condition": {"test": "abs(datum.value*5-round(datum.value*5))<0.01", "value": -8}, "value": -4}}}}},
  {"data": {"name": "pts"}, "transform": [{"filter": "datum.p == 3 && datum.c == 'pi'"}], "mark": {"type": "rule", "color": "black", "strokeWidth": 1.7, "clip": true}, "encoding": {"x": {"field": "x", "type": "quantitative", "axis": null}, "y": {"field": "e0", "type": "quantitative", "axis": null}, "y2": {"field": "e1"}}},
  {"data": {"name": "pts"}, "transform": [{"filter": "datum.p == 3 && datum.c == 'pi'"}], "mark": {"type": "tick", "orient": "horizontal", "color": "black", "size": 5, "thickness": 1.7, "clip": true}, "encoding": {"x": {"field": "x", "type": "quantitative", "axis": null}, "y": {"field": "e0", "type": "quantitative", "axis": null}}},
  {"data": {"name": "pts"}, "transform": [{"filter": "datum.p == 3 && datum.c == 'pi'"}], "mark": {"type": "tick", "orient": "horizontal", "color": "black", "size": 5, "thickness": 1.7, "clip": true}, "encoding": {"x": {"field": "x", "type": "quantitative", "axis": null}, "y": {"field": "e1", "type": "quantitative", "axis": null}}},
  {"data": {"name": "pts"}, "transform": [{"filter": "datum.p == 3 && datum.c == 'pi'"}], "mark": {"type": "circle", "color": "black", "size": 40, "opacity": 1, "clip": true}, "encoding": {"x": {"field": "x", "type": "quantitative", "axis": null}, "y": {"field": "y", "type": "quantitative", "axis": null}}},
  {"mark": {"type": "text", "text": "40-60 %", "align": "left", "baseline": "middle", "fontSize": 14.5, "fontWeight": "bold", "font": "Liberation Sans", "color": "black"}, "encoding": {"x": {"datum": 0.95, "type": "quantitative", "axis": null}, "y": {"datum": 1.44, "type": "quantitative", "axis": null}}}
 ]},
{"width": 300, "height": 148, "data": {"name": "one"}, "resolve": {"axis": {"x": "independent", "y": "independent"}},
 "layer": [
  {"data": {"name": "bands"}, "transform": [{"filter": "datum.p == 3"}], "mark": {"type": "rect", "color": "#a9bccf"},
   "encoding": {"x": {"datum": 0.6, "type": "quantitative", "scale": {"domain": [0, 16.5], "nice": false, "zero": false}, "axis": {"orient": "bottom", "title": null, "tickCount": 82, "labels": false, "tickSize": {"condition": {"test": "abs(datum.value-round(datum.value))<0.01", "value": -7}, "value": -3.5}}},
    "x2": {"datum": 16.05},
    "y": {"field": "b0", "type": "quantitative", "scale": {"domain": [0.61, 1.76], "nice": false, "zero": false}, "axis": {"orient": "left", "title": null, "labels": false, "values": [0.64,0.68,0.72,0.76,0.8,0.84,0.88,0.92,0.96,1,1.04,1.08,1.12,1.16,1.2,1.24,1.28,1.32,1.36,1.4,1.44,1.48,1.52,1.56,1.6,1.64,1.68,1.72,1.76], "tickSize": {"condition": {"test": "abs(datum.value*5-round(datum.value*5))<0.01", "value": -8}, "value": -4}}},
    "y2": {"field": "b1"}}},
  {"mark": {"type": "rect", "color": "#ed1c24"}, "encoding": {"x": {"datum": 0.15, "type": "quantitative", "axis": null}, "x2": {"datum": 0.6}, "y": {"datum": 0.9, "type": "quantitative", "axis": null}, "y2": {"datum": 1.1}}},
  {"data": {"name": "pts"}, "transform": [{"filter": "datum.p == 3 && datum.c == 'eta'"}], "mark": {"type": "rect", "fill": "#86c5ba", "stroke": "#b8ded6", "strokeWidth": 1, "clip": true},
   "encoding": {"x": {"field": "x0", "type": "quantitative", "axis": null}, "x2": {"field": "x1"}, "y": {"field": "s0", "type": "quantitative", "axis": null}, "y2": {"field": "s1"}}},
  {"mark": {"type": "rule", "color": "#111111", "strokeWidth": 1.2}, "encoding": {"x": {"datum": 0, "type": "quantitative", "axis": {"orient": "top", "title": null, "tickCount": 82, "labels": false, "tickSize": {"condition": {"test": "abs(datum.value-round(datum.value))<0.01", "value": -7}, "value": -3.5}}}, "x2": {"datum": 16.05}, "y": {"datum": 1, "type": "quantitative", "axis": {"orient": "right", "title": null, "labels": false, "values": [0.64,0.68,0.72,0.76,0.8,0.84,0.88,0.92,0.96,1,1.04,1.08,1.12,1.16,1.2,1.24,1.28,1.32,1.36,1.4,1.44,1.48,1.52,1.56,1.6,1.64,1.68,1.72,1.76], "tickSize": {"condition": {"test": "abs(datum.value*5-round(datum.value*5))<0.01", "value": -8}, "value": -4}}}}},
  {"data": {"name": "pts"}, "transform": [{"filter": "datum.p == 3 && datum.c == 'eta'"}], "mark": {"type": "rule", "color": "black", "strokeWidth": 1.7, "clip": true}, "encoding": {"x": {"field": "x", "type": "quantitative", "axis": null}, "y": {"field": "e0", "type": "quantitative", "axis": null}, "y2": {"field": "e1"}}},
  {"data": {"name": "pts"}, "transform": [{"filter": "datum.p == 3 && datum.c == 'eta'"}], "mark": {"type": "tick", "orient": "horizontal", "color": "black", "size": 5, "thickness": 1.7, "clip": true}, "encoding": {"x": {"field": "x", "type": "quantitative", "axis": null}, "y": {"field": "e0", "type": "quantitative", "axis": null}}},
  {"data": {"name": "pts"}, "transform": [{"filter": "datum.p == 3 && datum.c == 'eta'"}], "mark": {"type": "tick", "orient": "horizontal", "color": "black", "size": 5, "thickness": 1.7, "clip": true}, "encoding": {"x": {"field": "x", "type": "quantitative", "axis": null}, "y": {"field": "e1", "type": "quantitative", "axis": null}}},
  {"data": {"name": "pts"}, "transform": [{"filter": "datum.p == 3 && datum.c == 'eta'"}], "mark": {"type": "circle", "color": "black", "size": 40, "opacity": 1, "clip": true}, "encoding": {"x": {"field": "x", "type": "quantitative", "axis": null}, "y": {"field": "y", "type": "quantitative", "axis": null}}}
 ]},
{"width": 299, "height": 151, "data": {"name": "one"}, "resolve": {"axis": {"x": "independent", "y": "independent"}},
 "layer": [
  {"data": {"name": "bands"}, "transform": [{"filter": "datum.p == 4"}], "mark": {"type": "rect", "color": "#a9bccf"},
   "encoding": {"x": {"datum": 0.6, "type": "quantitative", "scale": {"domain": [0, 16.45], "nice": false, "zero": false}, "axis": {"orient": "bottom", "title": null, "tickCount": 82, "labels": false, "tickSize": {"condition": {"test": "abs(datum.value-round(datum.value))<0.01", "value": -7}, "value": -3.5}}},
    "x2": {"datum": 16},
    "y": {"field": "b0", "type": "quantitative", "scale": {"domain": [0.61, 1.76], "nice": false, "zero": false}, "axis": {"orient": "left", "title": null, "values": [0.64,0.68,0.72,0.76,0.8,0.84,0.88,0.92,0.96,1,1.04,1.08,1.12,1.16,1.2,1.24,1.28,1.32,1.36,1.4,1.44,1.48,1.52,1.56,1.6,1.64,1.68,1.72,1.76], "labelPadding": 12, "labelExpr": "abs(datum.value*5-round(datum.value*5))<0.01 && datum.value>0.7 ? ''+datum.value : ''", "tickSize": {"condition": {"test": "abs(datum.value*5-round(datum.value*5))<0.01", "value": -8}, "value": -4}}},
    "y2": {"field": "b1"}}},
  {"mark": {"type": "rect", "color": "#ed1c24"}, "encoding": {"x": {"datum": 0.2, "type": "quantitative", "axis": null}, "x2": {"datum": 0.6}, "y": {"datum": 0.9, "type": "quantitative", "axis": null}, "y2": {"datum": 1.1}}},
  {"data": {"name": "pts"}, "transform": [{"filter": "datum.p == 4 && datum.c == 'pi'"}], "mark": {"type": "rect", "fill": "#86c5ba", "stroke": "#b8ded6", "strokeWidth": 1, "clip": true},
   "encoding": {"x": {"field": "x0", "type": "quantitative", "axis": null}, "x2": {"field": "x1"}, "y": {"field": "s0", "type": "quantitative", "axis": null}, "y2": {"field": "s1"}}},
  {"mark": {"type": "rule", "color": "#111111", "strokeWidth": 1.2}, "encoding": {"x": {"datum": 0, "type": "quantitative", "axis": {"orient": "top", "title": null, "tickCount": 82, "labels": false, "tickSize": {"condition": {"test": "abs(datum.value-round(datum.value))<0.01", "value": -7}, "value": -3.5}}}, "x2": {"datum": 16.45}, "y": {"datum": 1, "type": "quantitative", "axis": {"orient": "right", "title": null, "labels": false, "values": [0.64,0.68,0.72,0.76,0.8,0.84,0.88,0.92,0.96,1,1.04,1.08,1.12,1.16,1.2,1.24,1.28,1.32,1.36,1.4,1.44,1.48,1.52,1.56,1.6,1.64,1.68,1.72,1.76], "tickSize": {"condition": {"test": "abs(datum.value*5-round(datum.value*5))<0.01", "value": -8}, "value": -4}}}}},
  {"data": {"name": "pts"}, "transform": [{"filter": "datum.p == 4 && datum.c == 'pi'"}], "mark": {"type": "rule", "color": "black", "strokeWidth": 1.7, "clip": true}, "encoding": {"x": {"field": "x", "type": "quantitative", "axis": null}, "y": {"field": "e0", "type": "quantitative", "axis": null}, "y2": {"field": "e1"}}},
  {"data": {"name": "pts"}, "transform": [{"filter": "datum.p == 4 && datum.c == 'pi'"}], "mark": {"type": "tick", "orient": "horizontal", "color": "black", "size": 5, "thickness": 1.7, "clip": true}, "encoding": {"x": {"field": "x", "type": "quantitative", "axis": null}, "y": {"field": "e0", "type": "quantitative", "axis": null}}},
  {"data": {"name": "pts"}, "transform": [{"filter": "datum.p == 4 && datum.c == 'pi'"}], "mark": {"type": "tick", "orient": "horizontal", "color": "black", "size": 5, "thickness": 1.7, "clip": true}, "encoding": {"x": {"field": "x", "type": "quantitative", "axis": null}, "y": {"field": "e1", "type": "quantitative", "axis": null}}},
  {"data": {"name": "pts"}, "transform": [{"filter": "datum.p == 4 && datum.c == 'pi'"}], "mark": {"type": "circle", "color": "black", "size": 40, "opacity": 1, "clip": true}, "encoding": {"x": {"field": "x", "type": "quantitative", "axis": null}, "y": {"field": "y", "type": "quantitative", "axis": null}}},
  {"mark": {"type": "text", "text": "60-88 %", "align": "left", "baseline": "middle", "fontSize": 14.5, "fontWeight": "bold", "font": "Liberation Sans", "color": "black"}, "encoding": {"x": {"datum": 0.95, "type": "quantitative", "axis": null}, "y": {"datum": 1.44, "type": "quantitative", "axis": null}}}
 ]},
{"width": 300, "height": 151, "data": {"name": "one"}, "resolve": {"axis": {"x": "independent", "y": "independent"}},
 "layer": [
  {"data": {"name": "bands"}, "transform": [{"filter": "datum.p == 4"}], "mark": {"type": "rect", "color": "#a9bccf"},
   "encoding": {"x": {"datum": 0.6, "type": "quantitative", "scale": {"domain": [0, 16.5], "nice": false, "zero": false}, "axis": {"orient": "bottom", "title": null, "tickCount": 82, "labels": false, "tickSize": {"condition": {"test": "abs(datum.value-round(datum.value))<0.01", "value": -7}, "value": -3.5}}},
    "x2": {"datum": 16.05},
    "y": {"field": "b0", "type": "quantitative", "scale": {"domain": [0.61, 1.76], "nice": false, "zero": false}, "axis": {"orient": "left", "title": null, "labels": false, "values": [0.64,0.68,0.72,0.76,0.8,0.84,0.88,0.92,0.96,1,1.04,1.08,1.12,1.16,1.2,1.24,1.28,1.32,1.36,1.4,1.44,1.48,1.52,1.56,1.6,1.64,1.68,1.72,1.76], "tickSize": {"condition": {"test": "abs(datum.value*5-round(datum.value*5))<0.01", "value": -8}, "value": -4}}},
    "y2": {"field": "b1"}}},
  {"mark": {"type": "rect", "color": "#ed1c24"}, "encoding": {"x": {"datum": 0.15, "type": "quantitative", "axis": null}, "x2": {"datum": 0.6}, "y": {"datum": 0.9, "type": "quantitative", "axis": null}, "y2": {"datum": 1.1}}},
  {"data": {"name": "pts"}, "transform": [{"filter": "datum.p == 4 && datum.c == 'eta'"}], "mark": {"type": "rect", "fill": "#86c5ba", "stroke": "#b8ded6", "strokeWidth": 1, "clip": true},
   "encoding": {"x": {"field": "x0", "type": "quantitative", "axis": null}, "x2": {"field": "x1"}, "y": {"field": "s0", "type": "quantitative", "axis": null}, "y2": {"field": "s1"}}},
  {"mark": {"type": "rule", "color": "#111111", "strokeWidth": 1.2}, "encoding": {"x": {"datum": 0, "type": "quantitative", "axis": {"orient": "top", "title": null, "tickCount": 82, "labels": false, "tickSize": {"condition": {"test": "abs(datum.value-round(datum.value))<0.01", "value": -7}, "value": -3.5}}}, "x2": {"datum": 16.05}, "y": {"datum": 1, "type": "quantitative", "axis": {"orient": "right", "title": null, "labels": false, "values": [0.64,0.68,0.72,0.76,0.8,0.84,0.88,0.92,0.96,1,1.04,1.08,1.12,1.16,1.2,1.24,1.28,1.32,1.36,1.4,1.44,1.48,1.52,1.56,1.6,1.64,1.68,1.72,1.76], "tickSize": {"condition": {"test": "abs(datum.value*5-round(datum.value*5))<0.01", "value": -8}, "value": -4}}}}},
  {"data": {"name": "pts"}, "transform": [{"filter": "datum.p == 4 && datum.c == 'eta'"}], "mark": {"type": "rule", "color": "black", "strokeWidth": 1.7, "clip": true}, "encoding": {"x": {"field": "x", "type": "quantitative", "axis": null}, "y": {"field": "e0", "type": "quantitative", "axis": null}, "y2": {"field": "e1"}}},
  {"data": {"name": "pts"}, "transform": [{"filter": "datum.p == 4 && datum.c == 'eta'"}], "mark": {"type": "tick", "orient": "horizontal", "color": "black", "size": 5, "thickness": 1.7, "clip": true}, "encoding": {"x": {"field": "x", "type": "quantitative", "axis": null}, "y": {"field": "e0", "type": "quantitative", "axis": null}}},
  {"data": {"name": "pts"}, "transform": [{"filter": "datum.p == 4 && datum.c == 'eta'"}], "mark": {"type": "tick", "orient": "horizontal", "color": "black", "size": 5, "thickness": 1.7, "clip": true}, "encoding": {"x": {"field": "x", "type": "quantitative", "axis": null}, "y": {"field": "e1", "type": "quantitative", "axis": null}}},
  {"data": {"name": "pts"}, "transform": [{"filter": "datum.p == 4 && datum.c == 'eta'"}], "mark": {"type": "circle", "color": "black", "size": 40, "opacity": 1, "clip": true}, "encoding": {"x": {"field": "x", "type": "quantitative", "axis": null}, "y": {"field": "y", "type": "quantitative", "axis": null}}}
 ]},
{"width": 299, "height": 141, "data": {"name": "one"}, "resolve": {"axis": {"x": "independent", "y": "independent"}},
 "layer": [
  {"data": {"name": "bands"}, "transform": [{"filter": "datum.p == 5"}], "mark": {"type": "rect", "color": "#a9bccf"},
   "encoding": {"x": {"datum": 0.6, "type": "quantitative", "scale": {"domain": [0, 16.45], "nice": false, "zero": false}, "axis": {"orient": "bottom", "title": "pT(GeV/c)", "titleAnchor": "end", "titleFontSize": 12, "titlePadding": 3, "tickCount": 82, "labelPadding": 12, "labelExpr": "abs(datum.value-round(datum.value))<0.01 ? ''+round(datum.value) : ''", "tickSize": {"condition": {"test": "abs(datum.value-round(datum.value))<0.01", "value": -7}, "value": -3.5}}},
    "x2": {"datum": 16},
    "y": {"field": "b0", "type": "quantitative", "scale": {"domain": [0.6, 1.756], "nice": false, "zero": false}, "axis": {"orient": "left", "title": null, "values": [0.6,0.64,0.68,0.72,0.76,0.8,0.84,0.88,0.92,0.96,1,1.04,1.08,1.12,1.16,1.2,1.24,1.28,1.32,1.36,1.4,1.44,1.48,1.52,1.56,1.6,1.64,1.68,1.72], "labelPadding": 12, "labelExpr": "abs(datum.value*5-round(datum.value*5))<0.01 ? ''+datum.value : ''", "tickSize": {"condition": {"test": "abs(datum.value*5-round(datum.value*5))<0.01", "value": -8}, "value": -4}}},
    "y2": {"field": "b1"}}},
  {"mark": {"type": "rect", "color": "#ed1c24"}, "encoding": {"x": {"datum": 0.2, "type": "quantitative", "axis": null}, "x2": {"datum": 0.6}, "y": {"datum": 0.9, "type": "quantitative", "axis": null}, "y2": {"datum": 1.1}}},
  {"data": {"name": "pts"}, "transform": [{"filter": "datum.p == 5 && datum.c == 'pi'"}], "mark": {"type": "rect", "fill": "#86c5ba", "stroke": "#b8ded6", "strokeWidth": 1, "clip": true},
   "encoding": {"x": {"field": "x0", "type": "quantitative", "axis": null}, "x2": {"field": "x1"}, "y": {"field": "s0", "type": "quantitative", "axis": null}, "y2": {"field": "s1"}}},
  {"mark": {"type": "rule", "color": "#111111", "strokeWidth": 1.2}, "encoding": {"x": {"datum": 0, "type": "quantitative", "axis": {"orient": "top", "title": null, "tickCount": 82, "labels": false, "tickSize": {"condition": {"test": "abs(datum.value-round(datum.value))<0.01", "value": -7}, "value": -3.5}}}, "x2": {"datum": 16.45}, "y": {"datum": 1, "type": "quantitative", "axis": {"orient": "right", "title": null, "labels": false, "values": [0.6,0.64,0.68,0.72,0.76,0.8,0.84,0.88,0.92,0.96,1,1.04,1.08,1.12,1.16,1.2,1.24,1.28,1.32,1.36,1.4,1.44,1.48,1.52,1.56,1.6,1.64,1.68,1.72], "tickSize": {"condition": {"test": "abs(datum.value*5-round(datum.value*5))<0.01", "value": -8}, "value": -4}}}}},
  {"data": {"name": "pts"}, "transform": [{"filter": "datum.p == 5 && datum.c == 'pi'"}], "mark": {"type": "rule", "color": "black", "strokeWidth": 1.7, "clip": true}, "encoding": {"x": {"field": "x", "type": "quantitative", "axis": null}, "y": {"field": "e0", "type": "quantitative", "axis": null}, "y2": {"field": "e1"}}},
  {"data": {"name": "pts"}, "transform": [{"filter": "datum.p == 5 && datum.c == 'pi'"}], "mark": {"type": "tick", "orient": "horizontal", "color": "black", "size": 5, "thickness": 1.7, "clip": true}, "encoding": {"x": {"field": "x", "type": "quantitative", "axis": null}, "y": {"field": "e0", "type": "quantitative", "axis": null}}},
  {"data": {"name": "pts"}, "transform": [{"filter": "datum.p == 5 && datum.c == 'pi'"}], "mark": {"type": "tick", "orient": "horizontal", "color": "black", "size": 5, "thickness": 1.7, "clip": true}, "encoding": {"x": {"field": "x", "type": "quantitative", "axis": null}, "y": {"field": "e1", "type": "quantitative", "axis": null}}},
  {"data": {"name": "pts"}, "transform": [{"filter": "datum.p == 5 && datum.c == 'pi'"}], "mark": {"type": "circle", "color": "black", "size": 40, "opacity": 1, "clip": true}, "encoding": {"x": {"field": "x", "type": "quantitative", "axis": null}, "y": {"field": "y", "type": "quantitative", "axis": null}}},
  {"mark": {"type": "text", "text": "min bias", "align": "left", "baseline": "middle", "fontSize": 14.5, "fontWeight": "bold", "font": "Liberation Sans", "color": "black"}, "encoding": {"x": {"datum": 0.95, "type": "quantitative", "axis": null}, "y": {"datum": 1.45, "type": "quantitative", "axis": null}}}
 ]},
{"width": 300, "height": 141, "data": {"name": "one"}, "resolve": {"axis": {"x": "independent", "y": "independent"}},
 "layer": [
  {"data": {"name": "bands"}, "transform": [{"filter": "datum.p == 5"}], "mark": {"type": "rect", "color": "#a9bccf"},
   "encoding": {"x": {"datum": 0.6, "type": "quantitative", "scale": {"domain": [0, 16.5], "nice": false, "zero": false}, "axis": {"orient": "bottom", "title": "pT(GeV/c)", "titleAnchor": "end", "titleFontSize": 12, "titlePadding": 3, "tickCount": 82, "labelPadding": 12, "labelExpr": "abs(datum.value-round(datum.value))<0.01 && datum.value>0.5 ? ''+round(datum.value) : ''", "tickSize": {"condition": {"test": "abs(datum.value-round(datum.value))<0.01", "value": -7}, "value": -3.5}}},
    "x2": {"datum": 16.05},
    "y": {"field": "b0", "type": "quantitative", "scale": {"domain": [0.6, 1.756], "nice": false, "zero": false}, "axis": {"orient": "left", "title": null, "labels": false, "values": [0.6,0.64,0.68,0.72,0.76,0.8,0.84,0.88,0.92,0.96,1,1.04,1.08,1.12,1.16,1.2,1.24,1.28,1.32,1.36,1.4,1.44,1.48,1.52,1.56,1.6,1.64,1.68,1.72], "tickSize": {"condition": {"test": "abs(datum.value*5-round(datum.value*5))<0.01", "value": -8}, "value": -4}}},
    "y2": {"field": "b1"}}},
  {"mark": {"type": "rect", "color": "#ed1c24"}, "encoding": {"x": {"datum": 0.15, "type": "quantitative", "axis": null}, "x2": {"datum": 0.6}, "y": {"datum": 0.9, "type": "quantitative", "axis": null}, "y2": {"datum": 1.1}}},
  {"data": {"name": "pts"}, "transform": [{"filter": "datum.p == 5 && datum.c == 'eta'"}], "mark": {"type": "rect", "fill": "#86c5ba", "stroke": "#b8ded6", "strokeWidth": 1, "clip": true},
   "encoding": {"x": {"field": "x0", "type": "quantitative", "axis": null}, "x2": {"field": "x1"}, "y": {"field": "s0", "type": "quantitative", "axis": null}, "y2": {"field": "s1"}}},
  {"mark": {"type": "rule", "color": "#111111", "strokeWidth": 1.2}, "encoding": {"x": {"datum": 0, "type": "quantitative", "axis": {"orient": "top", "title": null, "tickCount": 82, "labels": false, "tickSize": {"condition": {"test": "abs(datum.value-round(datum.value))<0.01", "value": -7}, "value": -3.5}}}, "x2": {"datum": 16.05}, "y": {"datum": 1, "type": "quantitative", "axis": {"orient": "right", "title": null, "labels": false, "values": [0.6,0.64,0.68,0.72,0.76,0.8,0.84,0.88,0.92,0.96,1,1.04,1.08,1.12,1.16,1.2,1.24,1.28,1.32,1.36,1.4,1.44,1.48,1.52,1.56,1.6,1.64,1.68,1.72], "tickSize": {"condition": {"test": "abs(datum.value*5-round(datum.value*5))<0.01", "value": -8}, "value": -4}}}}},
  {"data": {"name": "pts"}, "transform": [{"filter": "datum.p == 5 && datum.c == 'eta'"}], "mark": {"type": "rule", "color": "black", "strokeWidth": 1.7, "clip": true}, "encoding": {"x": {"field": "x", "type": "quantitative", "axis": null}, "y": {"field": "e0", "type": "quantitative", "axis": null}, "y2": {"field": "e1"}}},
  {"data": {"name": "pts"}, "transform": [{"filter": "datum.p == 5 && datum.c == 'eta'"}], "mark": {"type": "tick", "orient": "horizontal", "color": "black", "size": 5, "thickness": 1.7, "clip": true}, "encoding": {"x": {"field": "x", "type": "quantitative", "axis": null}, "y": {"field": "e0", "type": "quantitative", "axis": null}}},
  {"data": {"name": "pts"}, "transform": [{"filter": "datum.p == 5 && datum.c == 'eta'"}], "mark": {"type": "tick", "orient": "horizontal", "color": "black", "size": 5, "thickness": 1.7, "clip": true}, "encoding": {"x": {"field": "x", "type": "quantitative", "axis": null}, "y": {"field": "e1", "type": "quantitative", "axis": null}}},
  {"data": {"name": "pts"}, "transform": [{"filter": "datum.p == 5 && datum.c == 'eta'"}], "mark": {"type": "circle", "color": "black", "size": 40, "opacity": 1, "clip": true}, "encoding": {"x": {"field": "x", "type": "quantitative", "axis": null}, "y": {"field": "y", "type": "quantitative", "axis": null}}}
 ]}
]
}
